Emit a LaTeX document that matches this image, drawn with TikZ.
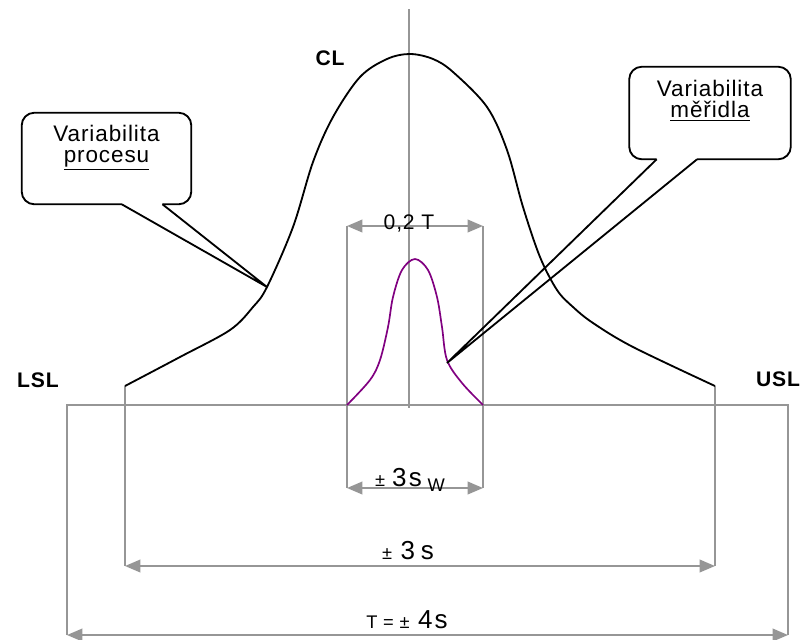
\documentclass[tikz,border=0pt]{standalone}
\usepackage{fontspec}
\setmainfont{Liberation Sans}
\newfontfamily\spacedfont[LetterSpace=4]{Liberation Sans}
\newfontfamily\widefont[LetterSpace=8]{Liberation Sans}
\usetikzlibrary{arrows.meta, calc}

\definecolor{dimgray}{RGB}{150,150,150}
\definecolor{gaugepurple}{RGB}{128,0,128}
\newcommand{\dimsmall}{\spacedfont\fontsize{13}{13}\selectfont}
\newcommand{\dimbig}{\widefont\fontsize{18.5}{18.5}\selectfont}

\begin{document}
\begin{tikzpicture}[x=0.025cm, y=-0.025cm,
    dimline/.style={draw=dimgray, line width=1.4pt},
    dimarrow/.style={dimline, {Triangle[length=11pt,width=9pt]}-{Triangle[length=11pt,width=9pt]}},
    bell/.style={line width=1.3pt},
    callout/.style={line width=1.3pt, rounded corners=9pt},
    calltext/.style={inner sep=0pt, align=center, font=\spacedfont\fontsize{16}{15}\selectfont},
    limit/.style={font=\spacedfont\fontsize{15}{15}\selectfont\bfseries},
]
\useasboundingbox (0,0) rectangle (803,639);

% tolerance frame T
\coordinate (tolL) at (67,405);
\coordinate (tolR) at (788,405);
\coordinate (tolLb) at (67,635);
\coordinate (tolRb) at (788,635);
\draw[dimline] (tolLb) -- (tolL) -- (tolR) -- (tolRb);
\draw[dimarrow] (tolLb) -- (tolRb);

% process spread +-3s
\coordinate (prcL) at (125,386);
\coordinate (prcR) at (715,386);
\coordinate (prcLb) at (125,566);
\coordinate (prcRb) at (715,566);
\draw[dimline] (prcL) -- (prcLb);
\draw[dimline] (prcR) -- (prcRb);
\draw[dimarrow] (prcLb) -- (prcRb);

% gauge spread
\coordinate (gauLt) at (347,226);
\coordinate (gauRt) at (483,226);
\coordinate (gauLb) at (347,488);
\coordinate (gauRb) at (483,488);
\draw[dimline] (gauLt) -- (gauLb);
\draw[dimline] (gauRt) -- (gauRb);
\draw[dimarrow] (gauLt) -- (gauRt);
\draw[dimarrow] (gauLb) -- (gauRb);

% center line
\coordinate (ctop) at (409,9);
\coordinate (cbot) at (409,408);
\draw[dimline] (ctop) -- (cbot);

% process curve
\draw[bell] plot[smooth, tension=0.55] coordinates {(125,386) (180,357) (230,330)
  (253,307) (267,287) (293,227) (313,162) (333,117) (360,77) (387,59) (410,54)
  (433,59) (453,72) (487,107) (507,150) (523,207) (540,257) (557,290) (573,307)
  (593,323) (633,347) (715,386)};

% gauge curve
\draw[gaugepurple, line width=1.2pt] plot[smooth, tension=0.55] coordinates {(347,405)
  (370,380) (380,360) (388,327) (393,297) (402,270) (415,259) (428,270) (437,297)
  (442,327) (447,360) (462,383) (483,405)};

% callouts
\node[calltext, minimum width=4.225cm, minimum height=2.275cm] (proc) at (106.5,158.5)
  {Variabilita\\\underline{procesu}\\\strut};
\coordinate (procA) at ($(proc.south west)!0.59!(proc.south east)$);
\coordinate (procB) at ($(proc.south west)!0.83!(proc.south east)$);
\coordinate (proctip) at (267,287);
\draw[callout] (procA) -- (proc.south west) -- (proc.north west) -- (proc.north east)
  -- (proc.south east) -- (procB);
\draw[bell] (procA) -- (proctip) -- (procB);

\node[calltext, minimum width=4.025cm, minimum height=2.3cm] (gauge) at (710,113)
  {Variabilita\\\underline{měřidla}\\\strut};
\coordinate (gaugeA) at ($(gauge.south west)!0.17!(gauge.south east)$);
\coordinate (gaugeB) at ($(gauge.south west)!0.42!(gauge.south east)$);
\coordinate (gaugetip) at (447,363);
\draw[callout] (gaugeA) -- (gauge.south west) -- (gauge.north west) -- (gauge.north east)
  -- (gauge.south east) -- (gaugeB);
\draw[bell] (gaugeA) -- (gaugetip) -- (gaugeB);

% labels
\node[limit] (cl) at (330,58) {CL};
\node[limit] (lsl) at (38,380) {LSL};
\node[limit] (usl) at (778,379) {USL};
\node[anchor=base, font=\spacedfont\fontsize{15}{15}\selectfont] (gtol) at (409,229) {0,2 T};
\node[anchor=base] (gsig) at (410,486) {{\dimsmall ±}\hspace{5pt}{\dimbig 3s}{\dimsmall\raisebox{-4pt}{ W}}};
\node[anchor=base] (psig) at (408,559) {{\dimsmall ±}\hspace{6pt}{\dimbig 3\hspace{4pt}s}};
\node[anchor=base] (ttol) at (407,628) {{\dimsmall T = ±}\hspace{6pt}{\dimbig 4s}};
\end{tikzpicture}
\end{document}
